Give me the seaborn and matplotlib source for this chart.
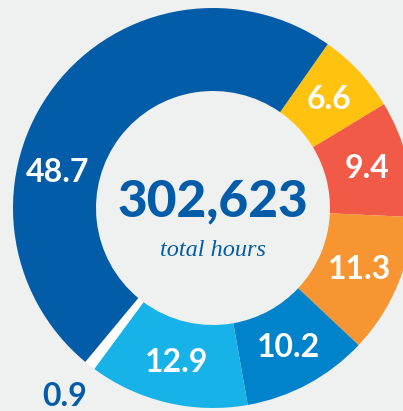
import numpy as np
import matplotlib
matplotlib.use("Agg")
import matplotlib.pyplot as plt
import seaborn as sns

# Data (percent of total hours), clockwise from top-right
categories = ["A", "B", "C", "D", "E", "F", "G"]
values = [6.6, 9.4, 11.3, 10.2, 12.9, 0.9, 48.7]
value_labels = ["6.6", "9.4", "11.3", "10.2", "12.9", "0.9", "48.7"]
total_text = "302,623"
subtitle = "total hours"

# Styles
colors = ["#FFC20F", "#F05A47", "#F79533", "#0083CA", "#17B2E7", "#FFFFFF", "#035CA8"]
label_colors = ["white", "white", "white", "white", "white", "#035CA8", "white"]
label_angle_override = {6: 167.0}   # degrees (math convention)
label_radius = {5: 1.2}
bg = "#EFF0F0"

sns.set_theme(style="white")
plt.rcParams["font.family"] = ["Lato", "DejaVu Sans"]

fig = plt.figure(figsize=(4.03, 4.11), dpi=100, facecolor=bg)
ax = fig.add_axes([0, 0, 1, 1])
ax.set_facecolor(bg)

start = 55.0
wedges, _ = ax.pie(values, colors=colors, startangle=start, counterclock=False,
                   radius=1.0, wedgeprops=dict(width=0.415, linewidth=0))

cum = np.cumsum([0] + values[:-1])
for i, (v, lab) in enumerate(zip(values, value_labels)):
    mid = start - (cum[i] + v / 2) * 3.6
    ang = np.deg2rad(label_angle_override.get(i, mid))
    r = label_radius.get(i, 0.795)
    ax.text(r * np.cos(ang), r * np.sin(ang), lab, ha="center", va="center",
            color=label_colors[i], fontsize=23, fontweight="bold")

ax.text(0, 0.03, total_text, ha="center", va="center", color="#035CA8",
        fontsize=37, fontweight="black")
ax.text(0, -0.215, subtitle, ha="center", va="center", color="#035CA8",
        fontsize=17.5, style="italic", family=["Liberation Serif", "DejaVu Serif"])

ax.set_xlim(-213 / 200, 190 / 200)
ax.set_ylim(-203 / 200, 208 / 200)
ax.set_aspect("equal")
ax.axis("off")

fig.savefig("out.png", dpi=100, facecolor=bg)
